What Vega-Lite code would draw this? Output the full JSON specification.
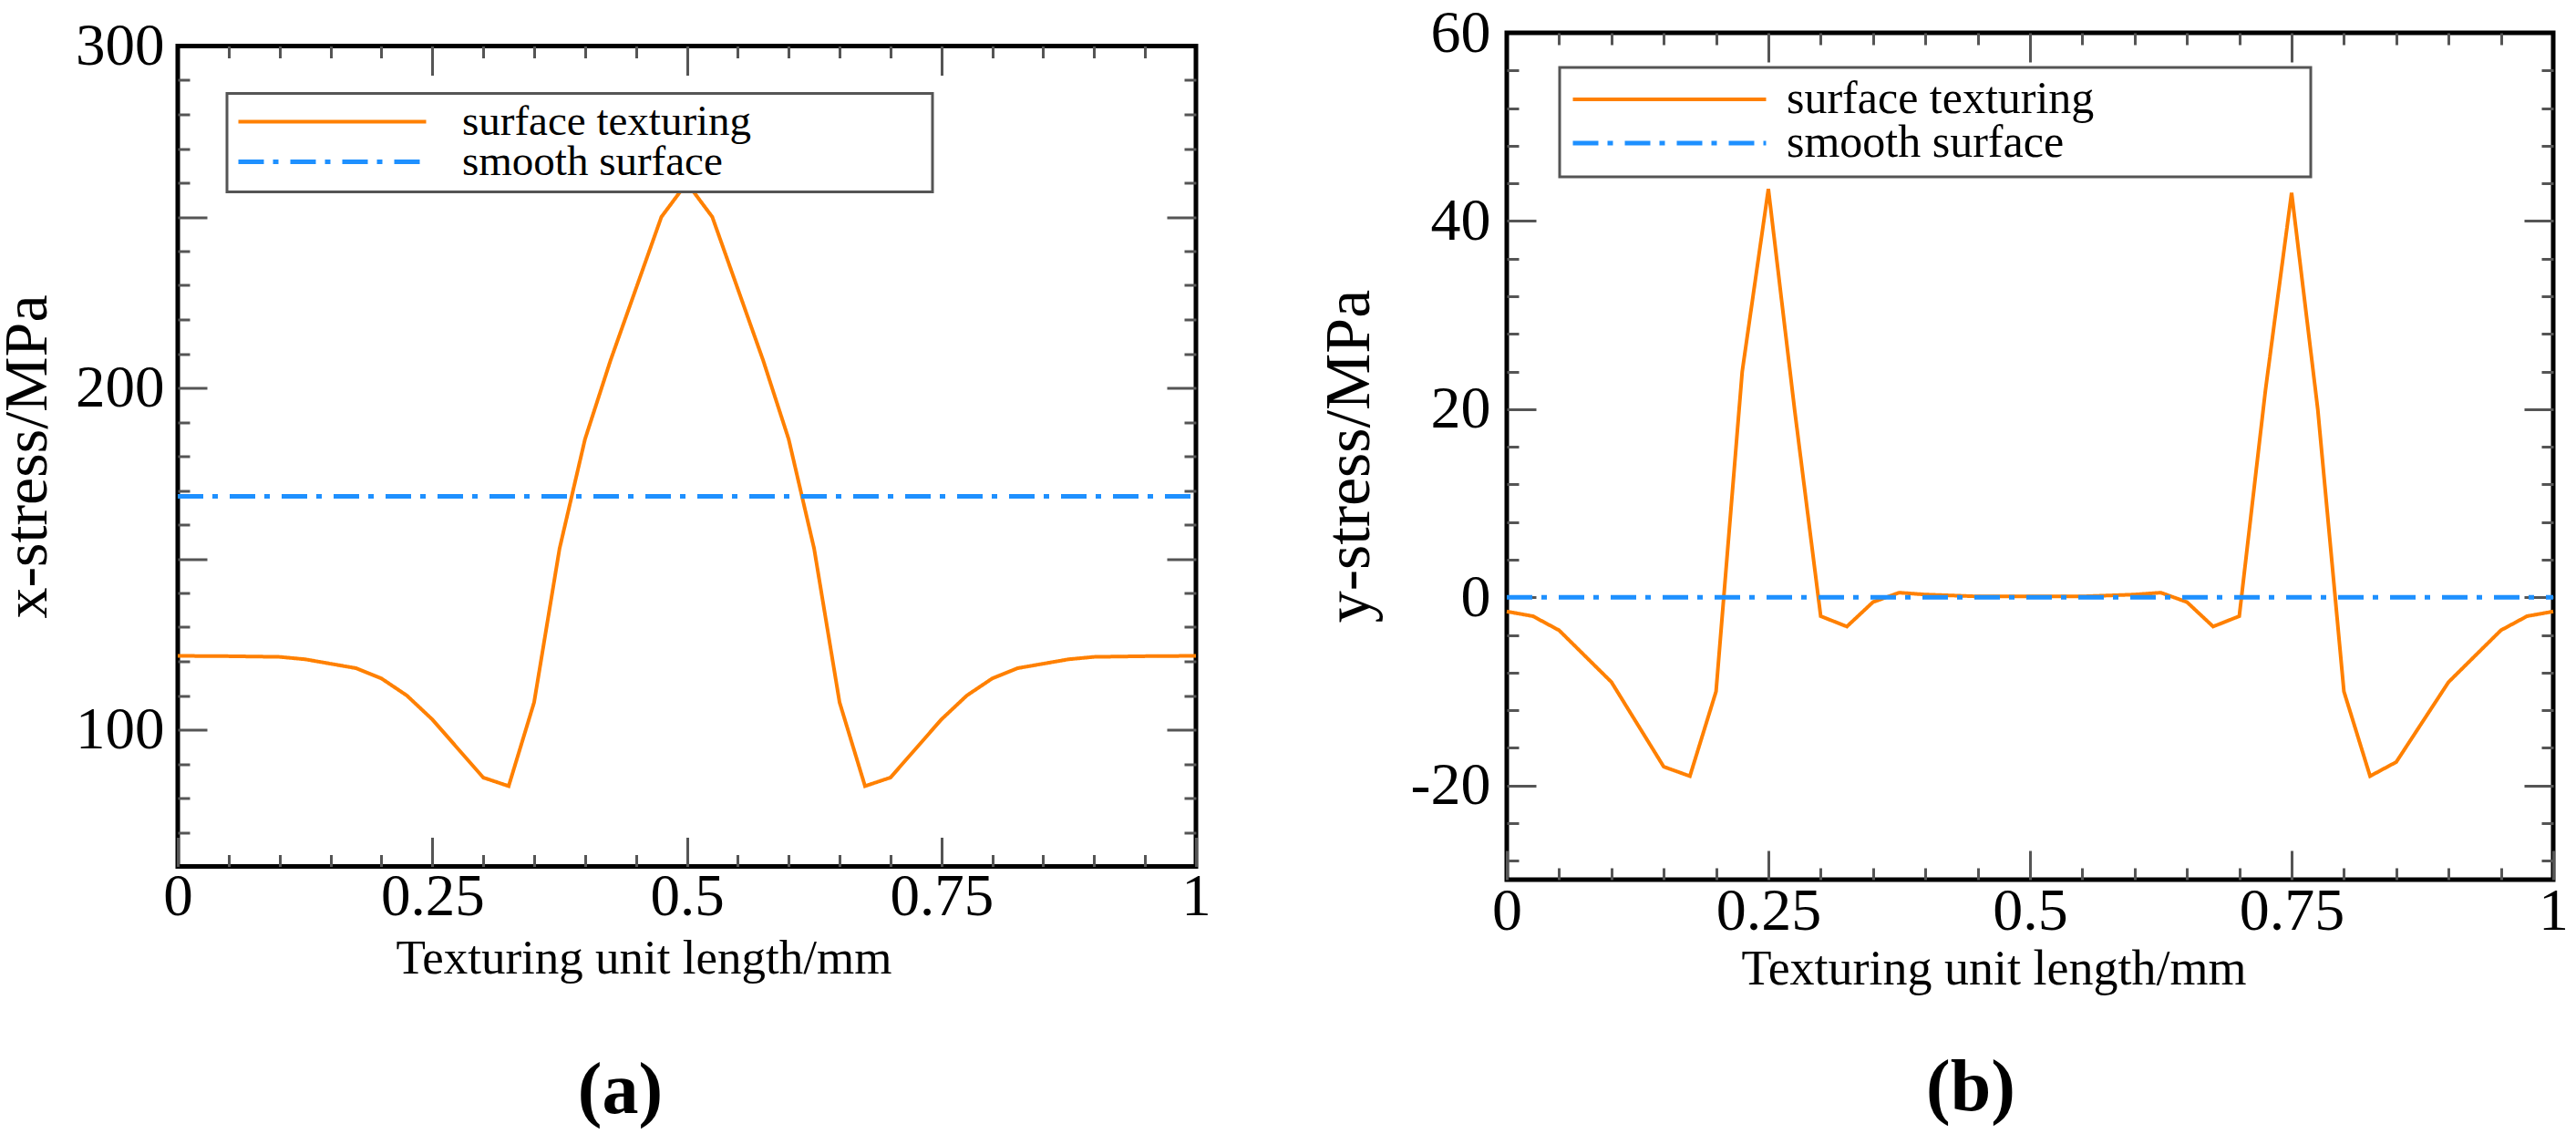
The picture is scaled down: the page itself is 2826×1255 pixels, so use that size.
{
  "$schema": "https://vega.github.io/schema/vega-lite/v6.json",
  "background": "white",
  "padding": {"left": -7, "top": 0, "right": 5, "bottom": 5},
  "bounds": "flush",
  "center": true,
  "spacing": 341,
  "resolve": {"scale": {"color": "independent", "strokeDash": "independent", "strokeWidth": "independent"}},
  "config": {
    "view": {"stroke": "#000", "strokeWidth": 5},
    "style": {
      "guide-label": {"font": "Liberation Serif", "fill": "#000"},
      "guide-title": {"font": "Liberation Serif", "fill": "#000", "fontWeight": "normal"}
    },
    "axis": {
      "grid": false,
      "domain": false,
      "labelFont": "Liberation Serif",
      "titleFont": "Liberation Serif",
      "labelColor": "#000",
      "titleColor": "#000",
      "titleFontWeight": "normal",
      "tickColor": "#555",
      "tickWidth": 3
    },
    "legend": {"strokeWidth": 3, "labelFont": "Liberation Serif"},
    "title": {"font": "Liberation Serif", "color": "#000", "fontWeight": "bold"}
  },
  "datasets": {
    "a": [
      {"x": 0, "stress": 121.6, "series": "surface texturing"},
      {"x": 0.05, "stress": 121.5, "series": "surface texturing"},
      {"x": 0.1, "stress": 121.3, "series": "surface texturing"},
      {"x": 0.125, "stress": 120.6, "series": "surface texturing"},
      {"x": 0.175, "stress": 118, "series": "surface texturing"},
      {"x": 0.2, "stress": 115, "series": "surface texturing"},
      {"x": 0.225, "stress": 110, "series": "surface texturing"},
      {"x": 0.25, "stress": 103, "series": "surface texturing"},
      {"x": 0.3, "stress": 86, "series": "surface texturing"},
      {"x": 0.325, "stress": 83.5, "series": "surface texturing"},
      {"x": 0.35, "stress": 108, "series": "surface texturing"},
      {"x": 0.375, "stress": 153, "series": "surface texturing"},
      {"x": 0.4, "stress": 185, "series": "surface texturing"},
      {"x": 0.425, "stress": 208, "series": "surface texturing"},
      {"x": 0.45, "stress": 229, "series": "surface texturing"},
      {"x": 0.475, "stress": 250, "series": "surface texturing"},
      {"x": 0.5, "stress": 260, "series": "surface texturing"},
      {"x": 0.525, "stress": 250, "series": "surface texturing"},
      {"x": 0.55, "stress": 229, "series": "surface texturing"},
      {"x": 0.575, "stress": 208, "series": "surface texturing"},
      {"x": 0.6, "stress": 185, "series": "surface texturing"},
      {"x": 0.625, "stress": 153, "series": "surface texturing"},
      {"x": 0.65, "stress": 108, "series": "surface texturing"},
      {"x": 0.675, "stress": 83.5, "series": "surface texturing"},
      {"x": 0.7, "stress": 86, "series": "surface texturing"},
      {"x": 0.75, "stress": 103, "series": "surface texturing"},
      {"x": 0.775, "stress": 110, "series": "surface texturing"},
      {"x": 0.8, "stress": 115, "series": "surface texturing"},
      {"x": 0.825, "stress": 118, "series": "surface texturing"},
      {"x": 0.875, "stress": 120.6, "series": "surface texturing"},
      {"x": 0.9, "stress": 121.3, "series": "surface texturing"},
      {"x": 0.95, "stress": 121.5, "series": "surface texturing"},
      {"x": 1, "stress": 121.6, "series": "surface texturing"},
      {"x": 0, "stress": 168.3, "series": "smooth surface"},
      {"x": 1, "stress": 168.3, "series": "smooth surface"}
    ],
    "b": [
      {"x": 0, "stress": -1.5, "series": "surface texturing"},
      {"x": 0.025, "stress": -2, "series": "surface texturing"},
      {"x": 0.05, "stress": -3.5, "series": "surface texturing"},
      {"x": 0.1, "stress": -9, "series": "surface texturing"},
      {"x": 0.15, "stress": -18, "series": "surface texturing"},
      {"x": 0.175, "stress": -19, "series": "surface texturing"},
      {"x": 0.2, "stress": -10, "series": "surface texturing"},
      {"x": 0.225, "stress": 24, "series": "surface texturing"},
      {"x": 0.25, "stress": 43.4, "series": "surface texturing"},
      {"x": 0.275, "stress": 20, "series": "surface texturing"},
      {"x": 0.3, "stress": -2, "series": "surface texturing"},
      {"x": 0.325, "stress": -3.1, "series": "surface texturing"},
      {"x": 0.35, "stress": -0.5, "series": "surface texturing"},
      {"x": 0.375, "stress": 0.5, "series": "surface texturing"},
      {"x": 0.4, "stress": 0.3, "series": "surface texturing"},
      {"x": 0.45, "stress": 0.1, "series": "surface texturing"},
      {"x": 0.5, "stress": 0.1, "series": "surface texturing"},
      {"x": 0.55, "stress": 0.1, "series": "surface texturing"},
      {"x": 0.6, "stress": 0.3, "series": "surface texturing"},
      {"x": 0.625, "stress": 0.5, "series": "surface texturing"},
      {"x": 0.65, "stress": -0.5, "series": "surface texturing"},
      {"x": 0.675, "stress": -3.1, "series": "surface texturing"},
      {"x": 0.7, "stress": -2, "series": "surface texturing"},
      {"x": 0.725, "stress": 22, "series": "surface texturing"},
      {"x": 0.75, "stress": 43, "series": "surface texturing"},
      {"x": 0.775, "stress": 20, "series": "surface texturing"},
      {"x": 0.8, "stress": -10, "series": "surface texturing"},
      {"x": 0.825, "stress": -19, "series": "surface texturing"},
      {"x": 0.85, "stress": -17.5, "series": "surface texturing"},
      {"x": 0.9, "stress": -9, "series": "surface texturing"},
      {"x": 0.95, "stress": -3.5, "series": "surface texturing"},
      {"x": 0.975, "stress": -2, "series": "surface texturing"},
      {"x": 1, "stress": -1.5, "series": "surface texturing"},
      {"x": 0, "stress": 0, "series": "smooth surface"},
      {"x": 1, "stress": 0, "series": "smooth surface"}
    ]
  },
  "hconcat": [
    {
      "width": 1117,
      "height": 900,
      "data": {"name": "a"},
      "title": {"text": "(a)", "orient": "bottom", "anchor": "middle", "frame": "group", "fontSize": 80, "offset": 79, "dx": -73},
      "resolve": {"axis": {"x": "independent", "y": "independent"}},
      "layer": [
        {
          "mark": {"type": "line"},
          "encoding": {
            "x": {
              "field": "x", "type": "quantitative",
              "scale": {"domain": [0, 1], "nice": false, "zero": false},
              "axis": {
                "orient": "bottom", "values": [0, 0.25, 0.5, 0.75, 1], "ticks": false,
                "labelFont": "Liberation Serif", "labelFontSize": 65, "labelPadding": 2, "labelFlush": false, "labelOverlap": false,
                "labelExpr": "toString(datum.value)",
                "title": "Texturing unit length/mm", "titleFont": "Liberation Serif", "titleFontSize": 53,
                "titleX": 511, "titleY": 117, "titleAlign": "center", "titleBaseline": "alphabetic"
              }
            },
            "y": {
              "field": "stress", "type": "quantitative",
              "scale": {"domain": [60, 300], "nice": false, "zero": false},
              "axis": {
                "orient": "left", "values": [100, 200, 300], "ticks": false,
                "labelFont": "Liberation Serif", "labelFontSize": 65, "labelPadding": 15, "labelOverlap": false,
                "labelExpr": "toString(datum.value)",
                "title": "x-stress/MPa", "titleFont": "Liberation Serif", "titleFontSize": 68,
                "titleX": -145, "titleY": 450, "titleAngle": -90, "titleAlign": "center", "titleBaseline": "alphabetic"
              }
            },
            "color": {
              "field": "series", "type": "nominal",
              "scale": {"domain": ["surface texturing", "smooth surface"], "range": ["#ff8000", "#1e90ff"]},
              "legend": {
                "title": null, "orient": "none", "legendX": 54, "legendY": 52, "direction": "vertical",
                "symbolType": "stroke", "symbolSize": 42436, "symbolStrokeWidth": 4,
                "labelFont": "Liberation Serif", "labelFontSize": 47, "labelColor": "#000", "labelLimit": 2000,
                "labelOffset": 37, "clipHeight": 42, "rowPadding": -11, "padding": 10,
                "fillColor": "white", "strokeColor": "#555",
                "labelExpr": "datum.label + '\u00a0\u00a0\u00a0\u00a0\u00a0\u00a0\u00a0\u00a0\u00a0\u00a0\u00a0\u00a0\u00a0\u00a0\u00a0\u00a0\u200b'"
              }
            },
            "strokeDash": {
              "field": "series", "type": "nominal",
              "scale": {"domain": ["surface texturing", "smooth surface"], "range": [[1, 0], [28, 10, 6, 13]]},
              "legend": {
                "title": null, "orient": "none", "legendX": 54, "legendY": 52, "direction": "vertical",
                "symbolType": "stroke", "symbolSize": 42436, "symbolStrokeWidth": 4,
                "labelFont": "Liberation Serif", "labelFontSize": 47, "labelColor": "#000", "labelLimit": 2000,
                "labelOffset": 37, "clipHeight": 42, "rowPadding": -11, "padding": 10,
                "fillColor": "white", "strokeColor": "#555",
                "labelExpr": "datum.label + '\u00a0\u00a0\u00a0\u00a0\u00a0\u00a0\u00a0\u00a0\u00a0\u00a0\u00a0\u00a0\u00a0\u00a0\u00a0\u00a0\u200b'"
              }
            },
            "strokeWidth": {
              "field": "series", "type": "nominal",
              "scale": {"domain": ["surface texturing", "smooth surface"], "range": [4, 5]},
              "legend": null
            }
          }
        },
        {
          "mark": {"type": "point", "opacity": 0},
          "encoding": {
            "x": {"field": "x", "type": "quantitative",
              "axis": {"orient": "bottom", "values": [0, 0.25, 0.5, 0.75, 1], "tickSize": -32, "labels": false, "title": null}},
            "y": {"field": "stress", "type": "quantitative",
              "axis": {"orient": "left", "values": [100, 150, 200, 250], "tickSize": -32, "labels": false, "title": null}}
          }
        },
        {
          "mark": {"type": "point", "opacity": 0},
          "encoding": {
            "x": {"field": "x", "type": "quantitative",
              "axis": {"orient": "bottom", "values": [0.05, 0.1, 0.15, 0.2, 0.3, 0.35, 0.4, 0.45, 0.55, 0.6, 0.65, 0.7, 0.8, 0.85, 0.9, 0.95], "tickSize": -13, "labels": false, "title": null}},
            "y": {"field": "stress", "type": "quantitative",
              "axis": {"orient": "left", "values": [70, 80, 90, 110, 120, 130, 140, 160, 170, 180, 190, 210, 220, 230, 240, 260, 270, 280, 290], "tickSize": -13, "labels": false, "title": null}}
          }
        },
        {
          "mark": {"type": "point", "opacity": 0},
          "encoding": {
            "x": {"field": "x", "type": "quantitative",
              "axis": {"orient": "top", "values": [0.25, 0.5, 0.75], "tickSize": -32, "labels": false, "title": null}},
            "y": {"field": "stress", "type": "quantitative",
              "axis": {"orient": "right", "values": [100, 150, 200, 250], "tickSize": -32, "labels": false, "title": null}}
          }
        },
        {
          "mark": {"type": "point", "opacity": 0},
          "encoding": {
            "x": {"field": "x", "type": "quantitative",
              "axis": {"orient": "top", "values": [0.05, 0.1, 0.15, 0.2, 0.3, 0.35, 0.4, 0.45, 0.55, 0.6, 0.65, 0.7, 0.8, 0.85, 0.9, 0.95], "tickSize": -13, "labels": false, "title": null}},
            "y": {"field": "stress", "type": "quantitative",
              "axis": {"orient": "right", "values": [70, 80, 90, 110, 120, 130, 140, 160, 170, 180, 190, 210, 220, 230, 240, 260, 270, 280, 290], "tickSize": -13, "labels": false, "title": null}}
          }
        }
      ]
    },
    {
      "width": 1148,
      "height": 929,
      "data": {"name": "b"},
      "title": {"text": "(b)", "orient": "bottom", "anchor": "middle", "frame": "group", "fontSize": 80, "offset": 65, "dx": -65},
      "resolve": {"axis": {"x": "independent", "y": "independent"}},
      "layer": [
        {
          "mark": {"type": "line"},
          "encoding": {
            "x": {
              "field": "x", "type": "quantitative",
              "scale": {"domain": [0, 1], "nice": false, "zero": false},
              "axis": {
                "orient": "bottom", "values": [0, 0.25, 0.5, 0.75, 1], "ticks": false,
                "labelFont": "Liberation Serif", "labelFontSize": 66, "labelPadding": 2, "labelFlush": false, "labelOverlap": false,
                "labelExpr": "toString(datum.value)",
                "title": "Texturing unit length/mm", "titleFont": "Liberation Serif", "titleFontSize": 54,
                "titleX": 534, "titleY": 114, "titleAlign": "center", "titleBaseline": "alphabetic"
              }
            },
            "y": {
              "field": "stress", "type": "quantitative",
              "scale": {"domain": [-30, 60], "nice": false, "zero": false},
              "axis": {
                "orient": "left", "values": [-20, 0, 20, 40, 60], "ticks": false,
                "labelFont": "Liberation Serif", "labelFontSize": 66, "labelPadding": 18, "labelOverlap": false,
                "labelExpr": "toString(datum.value)",
                "title": "y-stress/MPa", "titleFont": "Liberation Serif", "titleFontSize": 70,
                "titleX": -152, "titleY": 464, "titleAngle": -90, "titleAlign": "center", "titleBaseline": "alphabetic"
              }
            },
            "color": {
              "field": "series", "type": "nominal",
              "scale": {"domain": ["surface texturing", "smooth surface"], "range": ["#ff8000", "#1e90ff"]},
              "legend": {
                "title": null, "orient": "none", "legendX": 58, "legendY": 38, "direction": "vertical",
                "symbolType": "stroke", "symbolSize": 44944, "symbolStrokeWidth": 4,
                "labelFont": "Liberation Serif", "labelFontSize": 50, "labelColor": "#000", "labelLimit": 2000,
                "labelOffset": 20, "clipHeight": 46, "rowPadding": -14, "padding": 12,
                "fillColor": "white", "strokeColor": "#555",
                "labelExpr": "datum.label + '\u00a0\u00a0\u00a0\u00a0\u00a0\u00a0\u00a0\u00a0\u00a0\u00a0\u00a0\u00a0\u00a0\u00a0\u00a0\u00a0\u00a0\u00a0\u200b'"
              }
            },
            "strokeDash": {
              "field": "series", "type": "nominal",
              "scale": {"domain": ["surface texturing", "smooth surface"], "range": [[1, 0], [28, 10, 6, 13]]},
              "legend": {
                "title": null, "orient": "none", "legendX": 58, "legendY": 38, "direction": "vertical",
                "symbolType": "stroke", "symbolSize": 44944, "symbolStrokeWidth": 4,
                "labelFont": "Liberation Serif", "labelFontSize": 50, "labelColor": "#000", "labelLimit": 2000,
                "labelOffset": 20, "clipHeight": 46, "rowPadding": -14, "padding": 12,
                "fillColor": "white", "strokeColor": "#555",
                "labelExpr": "datum.label + '\u00a0\u00a0\u00a0\u00a0\u00a0\u00a0\u00a0\u00a0\u00a0\u00a0\u00a0\u00a0\u00a0\u00a0\u00a0\u00a0\u00a0\u00a0\u200b'"
              }
            },
            "strokeWidth": {
              "field": "series", "type": "nominal",
              "scale": {"domain": ["surface texturing", "smooth surface"], "range": [4, 5]},
              "legend": null
            }
          }
        },
        {
          "mark": {"type": "point", "opacity": 0},
          "encoding": {
            "x": {"field": "x", "type": "quantitative",
              "axis": {"orient": "bottom", "values": [0, 0.25, 0.5, 0.75, 1], "tickSize": -32, "labels": false, "title": null}},
            "y": {"field": "stress", "type": "quantitative",
              "axis": {"orient": "left", "values": [-20, 0, 20, 40], "tickSize": -32, "labels": false, "title": null}}
          }
        },
        {
          "mark": {"type": "point", "opacity": 0},
          "encoding": {
            "x": {"field": "x", "type": "quantitative",
              "axis": {"orient": "bottom", "values": [0.05, 0.1, 0.15, 0.2, 0.3, 0.35, 0.4, 0.45, 0.55, 0.6, 0.65, 0.7, 0.8, 0.85, 0.9, 0.95], "tickSize": -13, "labels": false, "title": null}},
            "y": {"field": "stress", "type": "quantitative",
              "axis": {"orient": "left", "values": [-28, -24, -16, -12, -8, -4, 4, 8, 12, 16, 24, 28, 32, 36, 44, 48, 52, 56], "tickSize": -13, "labels": false, "title": null}}
          }
        },
        {
          "mark": {"type": "point", "opacity": 0},
          "encoding": {
            "x": {"field": "x", "type": "quantitative",
              "axis": {"orient": "top", "values": [0.25, 0.5, 0.75], "tickSize": -32, "labels": false, "title": null}},
            "y": {"field": "stress", "type": "quantitative",
              "axis": {"orient": "right", "values": [-20, 0, 20, 40], "tickSize": -32, "labels": false, "title": null}}
          }
        },
        {
          "mark": {"type": "point", "opacity": 0},
          "encoding": {
            "x": {"field": "x", "type": "quantitative",
              "axis": {"orient": "top", "values": [0.05, 0.1, 0.15, 0.2, 0.3, 0.35, 0.4, 0.45, 0.55, 0.6, 0.65, 0.7, 0.8, 0.85, 0.9, 0.95], "tickSize": -13, "labels": false, "title": null}},
            "y": {"field": "stress", "type": "quantitative",
              "axis": {"orient": "right", "values": [-28, -24, -16, -12, -8, -4, 4, 8, 12, 16, 24, 28, 32, 36, 44, 48, 52, 56], "tickSize": -13, "labels": false, "title": null}}
          }
        }
      ]
    }
  ]
}
